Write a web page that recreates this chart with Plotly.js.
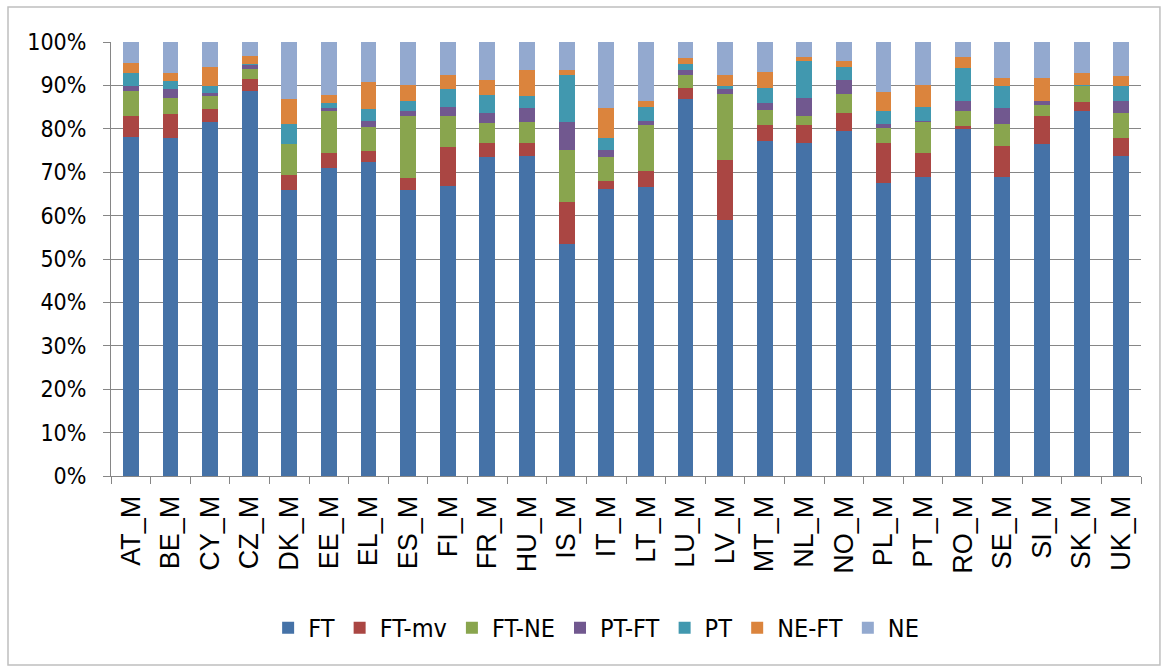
<!DOCTYPE html>
<html>
<head>
<meta charset="utf-8">
<script src="https://cdn.plot.ly/plotly-3.0.1.min.js"></script>
<style>
html,body{margin:0;padding:0;background:#fff;}
#chart{width:1165px;height:670px;}
</style>
</head>
<body>
<div id="chart"></div>
<script>
var categories = ["AT_M","BE_M","CY_M","CZ_M","DK_M","EE_M","EL_M","ES_M","FI_M","FR_M","HU_M","IS_M","IT_M","LT_M","LU_M","LV_M","MT_M","NL_M","NO_M","PL_M","PT_M","RO_M","SE_M","SI_M","SK_M","UK_M"];
var seriesNames = ["FT","FT-mv","FT-NE","PT-FT","PT","NE-FT","NE"];
var colors = ["#4572A7","#AA4643","#89A54E","#71588F","#4198AF","#DB843D","#93A9CF"];

// Values in percent, one entry per category (AT_M ... UK_M)
var FT    = [78.2,77.8,81.5,88.7,65.8,70.9,72.3,65.8,66.9,73.4,73.8,53.5,66.2,66.5,86.8,59.1,77.2,76.8,79.5,67.6,68.9,79.9,68.9,76.5,84.0,73.8];
var FT_mv = [4.8,5.5,3.1,2.8,3.6,3.6,2.5,2.8,8.9,3.4,3.0,9.6,1.7,3.7,2.7,13.6,3.7,4.1,4.1,9.2,5.6,0.7,7.2,6.5,2.1,4.0];
var FT_NE = [5.8,3.8,2.9,2.3,7.1,9.5,5.7,14.3,7.1,4.5,4.7,12.0,5.5,10.7,3.0,15.4,3.4,2.0,4.5,3.4,7.0,3.4,5.1,2.4,3.7,5.8];
var PT_FT = [1.0,2.0,0.7,0.8,0.0,0.8,1.4,1.1,2.1,2.3,3.2,6.4,1.7,1.0,1.0,1.0,1.7,4.2,3.1,1.0,0.4,2.4,3.5,1.0,0.0,2.8];
var PT    = [3.1,1.8,1.6,0.4,4.7,1.2,2.7,2.4,4.2,4.2,2.8,11.0,2.7,3.1,1.4,0.7,3.5,8.5,3.0,2.8,3.1,7.5,5.1,0.0,0.4,3.4];
var NE_FT = [2.3,2.0,4.4,1.7,5.6,1.7,6.2,3.8,3.3,3.4,6.1,1.1,6.9,1.4,1.4,2.7,3.7,1.0,1.4,4.4,5.2,2.7,2.0,5.4,2.7,2.4];
var NE    = [4.8,7.1,5.8,3.3,13.2,12.3,9.2,9.8,7.5,8.8,6.4,6.4,15.3,13.6,3.7,7.5,6.8,3.4,4.4,11.6,9.8,3.4,8.2,8.2,7.1,7.8];

var yTickVals = [0,10,20,30,40,50,60,70,80,90,100];
var yTickText = ["0%","10%","20%","30%","40%","50%","60%","70%","80%","90%","100%"];

var seriesValues = [FT, FT_mv, FT_NE, PT_FT, PT, NE_FT, NE];

var traces = seriesNames.map(function(name, i){
  return {
    type: 'bar',
    name: name,
    x: categories,
    y: seriesValues[i],
    marker: {color: colors[i], line: {width: 0}},
    hoverinfo: 'x+y+name'
  };
});

var fontReg = "'Liberation Sans', Arial, sans-serif";
var fontNarrow = "'DejaVu Sans Condensed', 'Liberation Sans', sans-serif";

var layout = {
  width: 1165,
  height: 670,
  barmode: 'stack',
  bargap: 0.6,
  paper_bgcolor: '#ffffff',
  plot_bgcolor: '#ffffff',
  margin: {l: 111, r: 24, t: 42, b: 194},
  showlegend: true,
  legend: {
    orientation: 'h',
    x: 0.471, xanchor: 'center',
    y: -0.35, yanchor: 'middle',
    font: {family: fontNarrow, size: 25, color: '#000'},
    traceorder: 'normal',
    itemwidth: 30
  },
  xaxis: {
    type: 'category',
    tickangle: -90,
    tickfont: {family: fontReg, size: 27, color: '#000'},
    ticklabelstandoff: 8,
    showline: true,
    linecolor: '#868686',
    linewidth: 1,
    ticks: 'outside',
    tickson: 'boundaries',
    ticklen: 7,
    tickcolor: '#868686',
    showgrid: false,
    fixedrange: true
  },
  yaxis: {
    range: [0, 100],
    tickvals: yTickVals,
    ticktext: yTickText,
    tickfont: {family: fontNarrow, size: 23, color: '#000'},
    ticklabelstandoff: 12,
    showline: true,
    linecolor: '#868686',
    linewidth: 1,
    ticks: 'outside',
    ticklen: 7,
    tickcolor: '#868686',
    showgrid: true,
    gridcolor: '#868686',
    gridwidth: 1,
    zeroline: false,
    fixedrange: true
  },
  shapes: [{
    type: 'rect',
    xref: 'paper', yref: 'paper',
    x0: -0.1, x1: 1.0184,
    y0: -0.4355, y1: 1.0806,
    line: {color: '#bfbfbf', width: 1.5},
    fillcolor: 'rgba(0,0,0,0)',
    layer: 'below'
  }]
};

Plotly.newPlot('chart', traces, layout, {displayModeBar: false, staticPlot: true});
</script>
</body>
</html>
